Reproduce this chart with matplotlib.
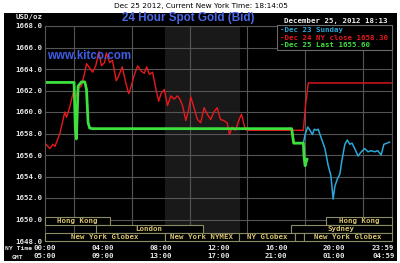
import matplotlib
matplotlib.use('Agg')
import matplotlib.pyplot as plt
from matplotlib.patches import Rectangle

# --- values (hours in New York time, USD/oz) ---
red_hours = [0.00, 0.34, 0.55, 0.69, 1.03, 1.37, 1.49, 1.72, 1.95, 2.11, 2.29, 2.52,
             2.75, 2.87, 3.09, 3.30, 3.51, 3.73, 3.90, 4.12, 4.24, 4.47, 4.67, 4.93,
             5.11, 5.34, 5.57, 5.79, 5.96, 6.19, 6.41, 6.65, 6.87, 7.03, 7.22, 7.44,
             7.68, 7.86, 8.02, 8.25, 8.47, 8.71, 8.93, 9.16, 9.33, 9.51, 9.74, 9.92,
             10.08, 10.31, 10.54, 10.77, 11.00, 11.22, 11.46, 11.68, 11.91, 12.14,
             12.37, 12.60, 12.76, 12.94, 13.18, 13.40, 13.59, 13.81, 13.95, 17.87,
             18.01, 18.21, 24.00]
red_price = [1657.1, 1656.6, 1657.0, 1656.8, 1658.0, 1660.0, 1659.5, 1660.5, 1661.8,
             1661.3, 1662.2, 1662.4, 1663.7, 1664.5, 1664.1, 1663.7, 1664.3, 1665.6,
             1664.3, 1664.6, 1665.5, 1664.6, 1664.8, 1662.9, 1663.4, 1664.2, 1662.8,
             1661.7, 1662.4, 1663.5, 1664.3, 1663.8, 1663.6, 1664.2, 1663.5, 1663.7,
             1662.1, 1661.0, 1661.7, 1662.1, 1660.6, 1661.5, 1661.2, 1661.5, 1661.2,
             1660.6, 1659.2, 1660.1, 1661.4, 1660.4, 1659.3, 1659.0, 1660.4, 1659.8,
             1659.3, 1660.0, 1660.4, 1659.3, 1659.2, 1659.0, 1657.9, 1658.6, 1658.3,
             1659.2, 1659.8, 1658.6, 1658.3, 1658.3, 1660.5, 1662.7, 1662.7]

green_hours = [0.00, 2.01, 2.10, 2.17, 2.29, 2.52, 2.75, 2.87, 2.98, 3.09, 3.30,
               17.06, 17.20, 17.87, 17.92, 17.99, 18.05, 18.12]
green_price = [1662.75, 1662.75, 1658.5, 1657.5, 1662.4, 1662.8, 1662.8, 1662.1,
               1659.0, 1658.5, 1658.45, 1658.45, 1657.1, 1657.1, 1655.8, 1655.0,
               1655.3, 1655.6]

cyan_hours = [17.87, 17.99, 18.17, 18.33, 18.49, 18.63, 18.78, 18.90, 19.02, 19.18,
              19.36, 19.59, 19.77, 19.93, 20.05, 20.23, 20.39, 20.55, 20.74, 20.91,
              21.08, 21.24, 21.42, 21.65, 21.88, 22.11, 22.34, 22.56, 22.80, 23.02,
              23.25, 23.44, 23.66, 23.83]
cyan_price = [1657.1, 1657.9, 1658.6, 1658.3, 1657.9, 1658.4, 1658.3, 1658.4, 1657.9,
              1657.3, 1656.6, 1655.0, 1654.1, 1651.9, 1653.1, 1653.8, 1654.2, 1655.6,
              1657.0, 1657.4, 1657.0, 1657.1, 1656.6, 1655.9, 1656.3, 1656.6, 1656.3,
              1656.4, 1656.3, 1656.4, 1656.0, 1657.0, 1657.1, 1657.2]

legend_labels = ['-Dec 23 Sunday', '-Dec 24 NY close 1658.30', '-Dec 25 Last 1655.60']

# trading sessions drawn as boxes along the bottom (row 0 is the top row)
session_names = ['Hong Kong', 'Hong Kong', 'London', 'Sydney', 'New York Globex',
                 'New York NYMEX', 'NY Globex', '', 'New York Globex']
session_start = [0.0, 19.45, 3.5, 17.0, 0.0, 8.3, 13.4, 17.3, 17.9]
session_end = [4.47, 24.0, 10.9, 24.0, 8.3, 13.4, 17.3, 17.9, 24.0]
session_row = [0, 0, 1, 1, 2, 2, 2, 2, 2]
nymex_open, nymex_close = 8.33, 13.5 # the lighter band

tick_hours = [0, 4, 8, 12, 16, 20, 23.4]
ny_labels = ['00:00', '04:00', '08:00', '12:00', '16:00', '20:00', '23:59']
gmt_labels = ['05:00', '09:00', '13:00', '17:00', '21:00', '01:00', '04:59']

mono = {'family': 'DejaVu Sans Mono', 'weight': 'bold', 'size': 5.3}
small = dict(mono, size=4.6)
W, H = 400, 263
def fx(x): return x / W # pixel -> figure fraction
def fy(y): return 1 - y / H

fig = plt.figure(figsize=(W / 100, H / 100), dpi=100, facecolor='white')
fig.patches.append(Rectangle((fx(4), fy(261)), fx(393), (261 - 13) / H,
                             transform=fig.transFigure, fc='black', ec='none', zorder=-5))
ax = fig.add_axes([fx(45), fy(241), fx(392 - 45), (241 - 26) / H])
ax.set_zorder(1)
ax.set_facecolor('black')
ax.set_xlim(0, 24)
ax.set_ylim(1648, 1668)
ax.set_axisbelow(True)
ax.set_xticks(range(0, 25, 2), minor=True)
ax.set_yticks(range(1648, 1669, 2))
ax.grid(True, which='both', color='#555555', lw=0.8)
ax.set_xticks(tick_hours)
ax.set_xticklabels([f'{a}\n{b}' for a, b in zip(ny_labels, gmt_labels)],
                   fontdict=mono, color='#e6e6e6', linespacing=1.3)
ax.set_yticklabels([f'{v:.1f}' for v in range(1648, 1669, 2)], fontdict=mono, color='#e6e6e6')
ax.tick_params(length=0, pad=2)
ax.tick_params(axis='x', pad=3)
ax.grid(False, axis='x', which='major') # only the 2-hour minor grid
ax.tick_params(axis='x', which='minor', length=0)
for s in ax.spines.values():
    s.set_color('#555555')
    s.set_linewidth(0.8)

ax.axvspan(nymex_open, nymex_close, color='#191919', zorder=0.2, lw=0)

ax.plot(red_hours, red_price, color='#e8181c', lw=1.0, zorder=2)
ax.plot(cyan_hours, cyan_price, color='#2aa8d8', lw=1.1, zorder=2)
ax.plot(green_hours, green_price, color='#3ee03e', lw=2, zorder=2.5)

row_top = [1650.2, 1649.48, 1648.76]
row_h = 0.72
for name, a, b, r in zip(session_names, session_start, session_end, session_row):
    ax.add_patch(Rectangle((a, row_top[r] - row_h), b - a, row_h, fc='black',
                           ec='#8c8c64', lw=0.8, zorder=3, clip_on=False))
    ax.text((a + b) / 2, row_top[r] - row_h / 2, name, color='#d8c470', ha='center',
            va='center', zorder=4, fontdict=mono)

# headings
fig.text(fx(201), fy(6), 'Dec 25 2012, Current New York Time: 18:14:05', ha='center',
         va='center', family='DejaVu Sans', size=5.3, color='black')
fig.text(fx(188), fy(18.5), '24 Hour Spot Gold (Bid)', ha='center', va='center',
         family='Liberation Sans', weight='bold', size=8.4, color='#4a68e8')
fig.text(fx(43), fy(16.5), 'USD/oz', ha='right', va='center', color='#e6e6e6', fontdict=mono)
fig.text(fx(5), fy(249), 'NY Time', ha='left', va='center', color='#e6e6e6', fontdict=small)
fig.text(fx(17), fy(257.5), 'GMT', ha='center', va='center', color='#e6e6e6', fontdict=small)
ax.text(0.005, 0.86, 'www.kitco.com', ha='left', va='center', transform=ax.transAxes,
        family='Liberation Sans', weight='bold', size=8.3, color='#3e5ee8', zorder=5)

# legend box in the upper right
fig.text(fx(284), fy(21.5), 'December 25, 2012 18:13', ha='left', va='center',
         color='#f0f0f0', fontdict=mono)
box = Rectangle((fx(277), fy(50)), fx(392 - 277), 25 / H, transform=fig.transFigure,
                fc='black', ec='#6a6a6a', lw=0.8, zorder=5)
fig.patches.append(box)
for i, (label, c) in enumerate(zip(legend_labels, ['#2aa8d8', '#e8181c', '#3ee03e'])):
    fig.text(fx(280), fy(30 + 7.6 * i), label, ha='left', va='center', color=c,
             fontdict=mono, zorder=6)

fig.savefig('out.png', dpi=100, facecolor='white')
